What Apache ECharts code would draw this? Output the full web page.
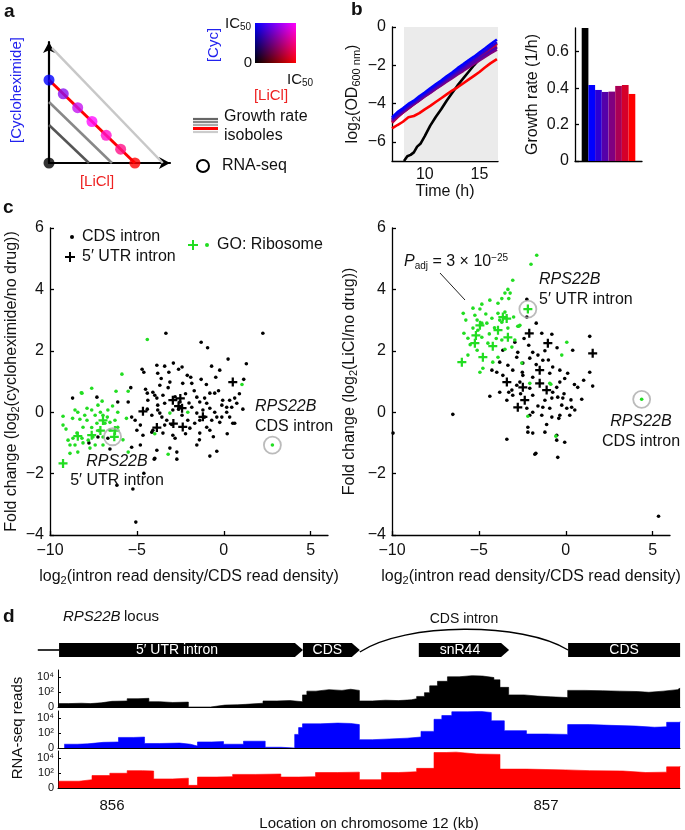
<!DOCTYPE html>
<html>
<head>
<meta charset="utf-8">
<script src="https://cdn.jsdelivr.net/npm/echarts@6.0.0/dist/echarts.min.js"></script>
<style>
html, body { margin: 0; padding: 0; background: #fff; }
#chart { width: 685px; height: 830px; }
</style>
</head>
<body>
<div id="chart"></div>
<script>
const FONT = 'Liberation Sans, Arial, Helvetica, sans-serif';
const GREEN = '#22dd22';
const minus = v => String(v).replace('-', '\u2212');

// ---- panel a: isobole schematic (fractions of IC50) ----
const isoboleDark = [[0, 0.314], [0.33, 0]];
const isoboleMid = [[0, 0.504], [0.52, 0]];
const isoboleRed = [[0, 0.686], [0.71, 0]];
const isoboleLight = [[0.025, 0.95], [0.94, 0]];
const rnaSeqPoints = [[0, 0], [0, 0.686], [0.118, 0.572], [0.237, 0.457], [0.355, 0.343], [0.473, 0.229], [0.592, 0.114], [0.71, 0]];
const rnaSeqColors = ['#000000', '#0000ff', '#8a10f0', '#c414f0', '#ff10ff', '#ff10d0', '#ff1088', '#ff0000'];

// ---- panel b: growth curves ----
const odTime = [7.0, 7.5, 8.0, 8.5, 9.0, 9.5, 10.0, 10.5, 11.0, 11.5, 12.0, 12.5, 13.0, 13.5, 14.0, 14.5, 15.0, 15.5, 16.0, 16.6];
const odMix = [
  [-4.72, -4.45, -4.25, -4.02, -3.85, -3.62, -3.42, -3.2, -3.0, -2.8, -2.58, -2.38, -2.15, -1.95, -1.74, -1.55, -1.33, -1.12, -0.9, -0.65],
  [-4.8, -4.55, -4.32, -4.1, -3.92, -3.7, -3.5, -3.28, -3.08, -2.88, -2.68, -2.48, -2.27, -2.07, -1.86, -1.67, -1.46, -1.26, -1.05, -0.8],
  [-4.85, -4.62, -4.4, -4.18, -3.98, -3.78, -3.58, -3.38, -3.18, -2.98, -2.78, -2.6, -2.4, -2.2, -2.02, -1.83, -1.64, -1.45, -1.27, -1.08],
  [-4.9, -4.67, -4.45, -4.23, -4.03, -3.83, -3.63, -3.44, -3.24, -3.05, -2.86, -2.67, -2.48, -2.3, -2.11, -1.93, -1.74, -1.56, -1.38, -1.18],
  [-4.95, -4.7, -4.46, -4.25, -4.03, -3.83, -3.62, -3.42, -3.22, -3.02, -2.82, -2.62, -2.42, -2.23, -2.03, -1.84, -1.64, -1.44, -1.24, -1.02],
  [-5.0, -4.72, -4.47, -4.24, -4.02, -3.8, -3.59, -3.38, -3.17, -2.96, -2.75, -2.55, -2.34, -2.14, -1.93, -1.73, -1.52, -1.32, -1.12, -0.88],
  [-5.3, -5.12, -4.95, -4.72, -4.65, -4.5, -4.3, -4.12, -3.92, -3.72, -3.52, -3.32, -3.15, -2.95, -2.75, -2.55, -2.35, -2.12, -1.9, -1.68]
];
const blackTime = [8.1, 8.4, 8.7, 9.0, 9.3, 9.6, 10.0, 10.5, 11.0, 11.5, 12.0, 12.5, 13.0, 13.5, 14.0, 14.5, 15.0, 15.5, 16.0, 16.6];
const blackOD = [-7.0, -6.75, -6.68, -6.55, -6.25, -6.1, -5.7, -5.15, -4.7, -4.3, -3.85, -3.45, -3.05, -2.7, -2.35, -2.0, -1.68, -1.35, -1.05, -0.85];
const mixColors = ['#0000ff', '#2a00d5', '#5500aa', '#800080', '#aa0055', '#d5002a', '#ff0000'];

const barLabels = ['', 'none', 'm1', 'm2', 'm3', 'm4', 'm5', 'm6', 'm7', ''];
const growthRate = [null, 0.73, 0.417, 0.39, 0.379, 0.381, 0.412, 0.417, 0.368, null];
const barColors = ['#fff', '#000000', '#0000ff', '#2a00d5', '#5500aa', '#800080', '#aa0055', '#d5002a', '#ff0000', '#fff'];

// ---- panel c: intron fold changes ----
const cycCdsBlack = [[-3.33,2.57],[2.25,2.57],[-1.3,2.28],[-0.93,2.1],[0.25,1.73],[1.3,1.58],[-3.85,1.53],[-2.9,1.6],[-4.7,1.4],[-4.6,1.3],[-3.8,1.27],[-3.16,1.3],[-2.4,1.47],[-2.6,1.4],[-1.9,1.14],[-1.3,1.07],[-0.23,1.37],[-0.46,1.14],[1.15,1.07],[-8.7,0.46],[-7.3,0.49],[-5.35,0.8],[-3.4,1.5],
  [-1.84,0.94],[-2.36,0.94],[-3.1,0.98],[-3.68,0.88],[-0.8,0.62],[-0.52,0.62],[-1.1,0.46],[0.34,0.39],[0.63,0.46],[-0.06,0.39],[-0.11,0.23],[0.17,0.16],[0.46,0.16],[0.17,0],[0.34,-0.16],[-0.11,-0.16],[-0.23,-0.33],[0.63,-0.36],[-0.69,-0.26],[-1.38,-0.26],[-0.98,-0.49],[-0.8,-0.59],[-1.38,-0.68],[-1.55,-1.07],[-2.07,-0.26],[-2.93,-0.75],[-3.5,-0.68],[-4.08,-0.59],[-3.1,-1.17],[-2.8,-0.85],[-1.95,-0.52],[-1.67,-0.36],[-2.7,-1.3],[-2.7,-1.53],[-3.97,-1.5],[-0.8,-1.43],[-0.4,-1.27],[-1.55,-0.03],[-1.84,0.16],[-2.53,0.33],[-3.5,0.55],[-4.08,0.65],[-3.85,0.46],[-3.4,0.29],[-2.93,0.07],[-3.56,-0.16],[-4.14,-0.1],[-3.8,0.07],[-3.28,-0.26],[-1.55,0.49],[-1.38,0.33],[-0.98,0.29],[-0.8,0.13],[-1.2,0.07],[-0.52,0],[-0.4,-0.16],[-1.1,-0.16],
  [-4.5,0.75],[-4.4,0.62],[-3.97,0.55],[-5.5,0.33],[-5.3,-0.16],[-5.1,-0.26],[-4.8,-0.42],[-5.0,-0.59],[-4.65,-0.75],[-4.14,-0.65],[-3.4,-0.42],[-4.8,-1.07],[-5.3,-1.14],[-3.85,-1.24],[-6.67,-0.85],[-7.24,-0.81],[-6.1,0.33],[-4.37,0.39],[-3.8,0.23],[-3.68,-0.03],
  [-5.23,-2.5],[-5.06,-3.58],[-6.15,-2.38],[-4.6,-1.99],[-4.0,-1.53],[0.52,-0.36],[0.75,0.29],[-7.76,-1.0],[-6.55,-1.2],
  [-2.2,0.6],[-2.0,0.3],[-2.6,0.1],[-3.0,-0.4],[-2.2,-0.7],[-1.7,0.7],[-1.0,0.9],[-0.3,0.7],[0.9,0.6],[1.1,0.1],[-2.4,-0.1],[-3.2,0.8],[-2.8,0.5],[-1.4,-0.9],[-0.6,-0.8],[0.2,-0.7],[-4.4,0.1],[-3.6,1.1],[-2.1,1.2],[-0.7,1.5]];
const cycUtrBlack = [[-4.65,0.03],[-3.85,-0.5],[-2.93,0.39],[-2.4,0.13],[-2.36,-0.48],[0.52,0.98],[-1.2,-0.15],[-2.9,-0.37],[-2.5,0.45],[-2.6,0.2]];
const cycCdsGreen = [[-4.4,2.37],[-5.86,1.24],[-7.6,0.78],[-8.2,0.63],[-6.2,0.68],[-5.5,0.68],[1.05,0.9],[-3.1,-0.03],[-2.07,0],[-3.97,-0.7],[-3.2,-1.37],[2.8,-1.07],
  [-8.16,0.62],[-7.0,0.36],[-9.25,-0.13],[-9.08,-0.55],[-8.96,-0.91],[-8.85,-1.07],[-8.56,0.07],[-8.4,0],[-8.28,-0.23],[-8.0,-0.1],[-7.87,-0.26],[-8.1,-0.49],[-8.45,-0.68],[-8.16,-0.85],[-8.68,-0.85],[-7.6,0.07],[-7.4,-0.1],[-7.3,-0.36],[-7.1,0],[-6.95,-0.1],[-6.7,-0.16],[-6.84,-0.36],[-6.55,-0.33],[-6.26,-0.26],[-6.1,0],[-6.1,-0.49],[-6.55,-0.59],[-6.95,-0.81],[-7.53,-0.81],[-7.8,-0.91],[-8.1,-1.0],[-8.56,-1.07],[-7.4,-1.07],[-6.95,-1.07],[-7.7,-1.17],[-8.85,-1.34],[-8.4,-1.3],[-5.5,-1.3],[-7.24,0.23],[-7.87,0.13],[-6.67,0.07],[-9.25,-0.42],[-7.6,-0.5],[-7.2,-0.6],[-8.7,-0.2],[-5.8,-0.9],[-5.6,-0.2],[-6.4,0.2]];
const cycUtrGreen = [[-9.25,-1.67],[-8.4,-0.78],[-7.6,-0.75],[-7.1,-0.6],[-6.95,-0.27],[-6.26,-0.6],[-6.3,-0.8]];
const cycCircled = [[-6.4,-0.8],[2.8,-1.07]];

const liclCdsBlack = [[1.38,2.47],[-1.38,2.57],[-0.8,2.54],[-2.93,2.28],[-2.13,2.18],[-1.9,1.95],[-2.76,1.95],[-3.62,2.02],[0.4,2.02],[-2.82,1.79],[-2.07,1.76],[-1.6,1.86],[-1.32,1.69],[-3.8,1.63],[-3.33,1.53],[-2.47,1.6],[-3.05,1.37],[-0.75,1.47],[-0.34,1.37],[-0.92,1.27],[0.11,1.27],[-0.06,1.1],[-4.25,1.37],[-3.97,1.3],[-3.62,1.2],[-2.47,1.2],[-1.9,1.14],[1.38,1.3],[1.03,1.04],[-0.34,0.98],[0.69,0.81],[-2.82,0.88],[-3.1,0.72],[-2.07,0.78],[-1.9,0.55],[-0.52,0.81],[-0.75,0.65],[-1.2,0.39],[-0.8,0.46],[-0.46,0.49],[-0.17,0.46],[0.92,0.42],[-1.32,0.16],[-0.92,0.13],[-0.23,0.23],[0.06,0.13],[0.34,0.16],[0.52,0.07],[0.23,-0.1],[-0.34,-0.1],[-0.8,-0.16],[-1.38,-0.1],[-1.9,0],[-2.24,0.13],[-2.07,-0.1],[-2.18,-0.49],[-2.18,-0.65],[-1.9,-0.68],[-1.2,-0.65],[-0.52,-0.75],[-0.06,-0.98],[-3.39,-0.88],[-0.52,-0.91],[-1.72,-1.34],[-0.46,-1.47],[-4.37,0.52],[-3.39,0.39],[-3.05,0.55],[-2.64,0.98],[-3.28,0.65],[-3.8,0.65],[-6.5,-0.07],[-9.94,-0.68],[5.34,-3.39],[-1.78,-1.37],[1.55,0.85],[-2.24,3.68],[-2.24,3.1],[-1.7,2.9],[-1.2,2.0],[-2.5,1.3],[-1.6,0.2],[-1.0,1.7],[-0.1,0.6],[0.5,0.9],[-1.1,-0.4],[-2.6,0.6],[-1.7,1.55],[-0.5,2.1],[-2.4,2.4],[-0.4,-0.2],[0.3,0.4]];
const liclUtrBlack = [[-2.1,2.57],[-1.03,2.25],[1.55,1.92],[-1.5,1.37],[-3.39,0.98],[-2.47,0.81],[-1.5,0.94],[-1.1,0.72],[-2.36,0.39],[-2.76,0.16]];
const liclCdsGreen = [[-1.67,5.11],[-2.0,4.82],[-3.05,4.3],[-3.33,4.0],[-3.5,3.88],[-3.2,3.88],[-3.28,3.7],[-3.68,3.7],[-3.9,3.55],[-4.37,3.65],[-4.83,3.52],[-5.34,3.39],[-4.94,3.36],[-5.9,3.22],[-5.75,3.0],[-5.23,3.16],[-5.1,3.0],[-4.83,2.9],[-4.54,2.9],[-4.25,3.06],[-3.9,3.22],[-3.5,3.26],[-3.68,2.93],[-3.33,2.74],[-2.76,2.8],[-5.34,2.74],[-5.06,2.67],[-5.86,2.57],[-5.63,2.41],[-4.83,2.44],[-4.48,2.25],[-3.68,2.35],[-5.1,2.02],[-5.63,1.86],[-3.9,1.79],[-4.2,1.63],[-4.77,1.43],[-4.94,1.3],[-3.1,2.12],[-2.93,2.35],[-2.64,2.83],[-2.07,0.94],[-0.86,0.91],[-2.18,-0.13],[-0.57,-0.78],[0.06,2.28],[-0.23,1.86],[-2.53,1.6],[-0.92,0.94],[-2.7,2.8],
  [-4.1,2.75],[-4.6,3.2],[-3.0,3.1],[-4.4,2.55],[-3.8,3.0],[-5.5,2.2],[-4.0,2.4],[-3.5,2.05],[4.37,0.42]];
const liclUtrGreen = [[-2.18,3.36],[-3.62,3.1],[-3.9,2.67],[-5.17,2.5],[-5.23,2.25],[-4.2,2.15],[-3.33,2.44],[-4.77,1.79],[-5.98,1.63],[-4.94,2.83],[-3.4,3.05]];
const liclCircled = [[-2.18,3.36],[4.37,0.42]];

// ---- panel d: RPS22B locus coverage, [kb, log10 reads] step starts ----
const geneParts = [
  { kind: 'line', start: 855.829, end: 855.878, label: '' },
  { kind: 'box', start: 855.878, end: 856.440, label: '5\u2032 UTR intron' },
  { kind: 'box', start: 856.440, end: 856.571, label: 'CDS' },
  { kind: 'arc', start: 856.571, end: 857.051, label: 'CDS intron' },
  { kind: 'box', start: 856.707, end: 856.915, label: 'snR44' },
  { kind: 'box', start: 857.051, end: 857.309, label: 'CDS' }
];
const covNoDrug = [[855.878,0.45],[855.90,0.5],[855.93,0.45],[855.95,0.55],[855.975,0.75],[856.00,0.8],[856.035,1.1],[856.06,1.15],[856.085,0.7],[856.11,0.6],[856.14,0.65],[856.176,0],[856.227,0.25],[856.26,0.3],[856.29,0.35],[856.308,0.5],[856.348,0.8],[856.38,0.85],[856.41,0.7],[856.439,1.6],[856.449,2.1],[856.47,2.3],[856.50,2.2],[856.53,2.35],[856.55,2.2],[856.570,0.8],[856.60,0.9],[856.63,0.85],[856.66,0.95],[856.69,1.1],[856.702,1.4],[856.72,1.9],[856.732,2.8],[856.75,3.4],[856.773,4.0],[856.80,4.15],[856.83,4.1],[856.854,3.9],[856.88,3.6],[856.894,2.6],[856.914,1.6],[856.95,1.45],[856.98,1.35],[857.01,1.25],[857.050,2.2],[857.09,2.15],[857.13,2.1],[857.17,2.05],[857.21,1.95],[857.237,2.1],[857.27,2.3],[857.303,2.5],[857.309,2.5]];
const covCyc = [[855.89,0.5],[855.92,0.55],[855.944,0.75],[855.98,0.8],[856.015,1.4],[856.05,1.45],[856.075,0.6],[856.11,0.65],[856.156,0.5],[856.181,0.25],[856.197,0.8],[856.23,0.85],[856.257,0.5],[856.303,0.9],[856.353,0.1],[856.389,0],[856.421,1.8],[856.43,2.7],[856.439,3.2],[856.48,3.3],[856.52,3.25],[856.55,3.1],[856.570,1.1],[856.60,1.2],[856.64,1.3],[856.68,1.45],[856.712,2.2],[856.742,3.8],[856.76,4.3],[856.783,4.8],[856.82,4.85],[856.85,4.7],[856.874,3.6],[856.904,2.3],[856.955,1.85],[857.0,1.8],[857.050,3.1],[857.10,3.0],[857.15,2.9],[857.207,2.75],[857.25,2.8],[857.278,3.4],[857.309,3.5]];
const covLicl = [[855.877,0.9],[855.924,1.1],[855.954,1.65],[855.995,1.95],[856.035,2.3],[856.07,2.25],[856.096,1.2],[856.14,1.3],[856.176,0.35],[856.197,1.45],[856.24,1.5],[856.278,1.8],[856.33,1.85],[856.389,1.45],[856.43,1.5],[856.469,2.05],[856.52,2.1],[856.570,1.1],[856.621,2.05],[856.66,2.15],[856.702,2.6],[856.742,4.7],[856.77,4.75],[856.793,4.5],[856.84,4.45],[856.894,2.5],[856.955,2.45],[857.0,2.4],[857.045,2.3],[857.10,2.25],[857.177,2.05],[857.23,2.1],[857.278,2.8],[857.309,2.9]];
const kbTicks = [855.9, 856.0, 856.1, 856.2, 856.3, 856.4, 856.5, 856.6, 856.7, 856.8, 856.9, 857.0, 857.1, 857.2, 857.3];
const kbLabels = [856, 857];
const readTicks = [0, 2, 4];
const readLabels = { 0: '0', 2: '10\u00b2', 4: '10\u2074' };

function merge(a, b) {
  const out = Object.assign({}, a);
  for (const k in b) {
    if (b[k] && typeof b[k] === 'object' && !Array.isArray(b[k]) && a[k] && typeof a[k] === 'object') out[k] = merge(a[k], b[k]);
    else out[k] = b[k];
  }
  return out;
}
function valAxis(gi, min, max, extra) {
  return merge({
    type: 'value', gridIndex: gi, min: min, max: max,
    axisLine: { show: true, onZero: false, lineStyle: { color: '#000', width: 1.3 } },
    axisTick: { show: true, inside: true, length: 4, lineStyle: { color: '#000', width: 1.3 } },
    axisLabel: { show: true, color: '#111', fontFamily: FONT, fontSize: 15, formatter: minus, margin: 6 },
    splitLine: { show: false },
    nameTextStyle: { color: '#111', fontFamily: FONT, fontSize: 15 }
  }, extra || {});
}
const subRich = {
  n: { fontFamily: FONT, fontSize: 15, color: '#111' },
  s: { fontFamily: FONT, fontSize: 10, color: '#111', padding: [7, 0, 0, 0] }
};
const subRich16 = {
  n: { fontFamily: FONT, fontSize: 16, color: '#111' },
  s: { fontFamily: FONT, fontSize: 11, color: '#111', padding: [7, 0, 0, 0] }
};
const hidden = { axisLine: { show: false }, axisTick: { show: false }, axisLabel: { show: false } };
const pair = (xs, ys) => xs.map((x, i) => [x, ys[i]]);
const plusPath = 'path://M3,0H5V3H8V5H5V8H3V5H0V3H3Z';

function txt(x, y, text, o) {
  o = o || {};
  return {
    type: 'text', x: x, y: y, rotation: o.rotation || 0, z: 100,
    style: {
      text: text, fill: o.fill || '#111', align: o.align || 'left', verticalAlign: 'middle',
      fontFamily: FONT, fontSize: o.fontSize || 15, fontWeight: o.fontWeight || 'normal',
      fontStyle: o.fontStyle || 'normal', rich: o.rich
    }
  };
}
function plus(cx, cy, color) {
  return { type: 'group', z: 100, children: [
    { type: 'rect', shape: { x: cx - 5, y: cy - 1, width: 10, height: 2 }, style: { fill: color } },
    { type: 'rect', shape: { x: cx - 1, y: cy - 5, width: 2, height: 10 }, style: { fill: color } }
  ] };
}
function hline(x1, x2, y, color, w) {
  return { type: 'line', z: 100, shape: { x1: x1, y1: y, x2: x2, y2: y }, style: { stroke: color, lineWidth: w } };
}

const richLabel = {
  n: { fontFamily: FONT, fontSize: 16, color: '#111' },
  i: { fontFamily: FONT, fontSize: 16, color: '#111', fontStyle: 'italic' },
  s: { fontFamily: FONT, fontSize: 10, color: '#111', padding: [8, 0, 0, 0] },
  p: { fontFamily: FONT, fontSize: 10, color: '#111', padding: [0, 0, 8, 0] }
};

const graphics = [
  txt(4, 12, 'a', { fontWeight: 'bold', fontSize: 19 }),
  txt(351, 10, 'b', { fontWeight: 'bold', fontSize: 19 }),
  txt(3, 208, 'c', { fontWeight: 'bold', fontSize: 19 }),
  txt(3, 617, 'd', { fontWeight: 'bold', fontSize: 19 }),
  // panel a
  txt(17, 90, '[Cycloheximide]', { rotation: Math.PI / 2, align: 'center', fill: '#2222ee' }),
  txt(97, 182, '[LiCl]', { align: 'center', fill: '#ee2222' }),
  { type: 'rect', z: 50, shape: { x: 255, y: 23, width: 41, height: 40 },
    style: { fill: new echarts.graphic.LinearGradient(0, 0, 1, 0, [{ offset: 0, color: '#000' }, { offset: 1, color: '#ff0000' }]) } },
  { type: 'rect', z: 51, shape: { x: 255, y: 23, width: 41, height: 40 },
    style: { blend: 'lighter', fill: new echarts.graphic.LinearGradient(0, 0, 0, 1, [{ offset: 0, color: 'rgba(0,0,255,1)' }, { offset: 1, color: 'rgba(0,0,255,0)' }]) } },
  txt(225, 24, '{n|IC}{s|50}', { rich: subRich }),
  txt(214, 45, '[Cyc]', { rotation: Math.PI / 2, align: 'center', fill: '#2222ee' }),
  txt(252, 63, '0', { align: 'right' }),
  txt(287, 80, '{n|IC}{s|50}', { rich: subRich }),
  txt(271, 96, '[LiCl]', { align: 'center', fill: '#ee2222' }),
  hline(193, 218, 119, '#666', 2.2),
  hline(193, 218, 122, '#888', 2.2),
  hline(193, 218, 125, '#aaa', 2.2),
  hline(193, 218, 128.5, '#ff0000', 3),
  hline(193, 218, 132, '#ccc', 2.2),
  txt(224, 117, 'Growth rate', { fontSize: 16 }),
  txt(224, 136, 'isoboles', { fontSize: 16 }),
  { type: 'circle', z: 100, shape: { cx: 203, cy: 166, r: 6 }, style: { fill: 'none', stroke: '#000', lineWidth: 2 } },
  txt(222, 166, 'RNA-seq', { fontSize: 16 }),
  // panel c legend + notes
  { type: 'circle', z: 100, shape: { cx: 72, cy: 237, r: 2 }, style: { fill: '#000' } },
  txt(82, 237, 'CDS intron', { fontSize: 16 }),
  plus(70, 257, '#000'),
  txt(82, 257, '5\u2032 UTR intron', { fontSize: 16 }),
  plus(193, 245, GREEN),
  { type: 'circle', z: 100, shape: { cx: 207, cy: 245, r: 2 }, style: { fill: GREEN } },
  txt(217, 245, 'GO: Ribosome', { fontSize: 16 }),
  txt(117, 462, 'RPS22B', { align: 'center', fontStyle: 'italic', fontSize: 16 }),
  txt(117, 481, '5\u2032 UTR intron', { align: 'center', fontSize: 16 }),
  txt(255, 407, 'RPS22B', { fontStyle: 'italic', fontSize: 16 }),
  txt(255, 427, 'CDS intron', { fontSize: 16 }),
  txt(539, 280, 'RPS22B', { fontStyle: 'italic', fontSize: 16 }),
  txt(539, 300, '5\u2032 UTR intron', { fontSize: 16 }),
  txt(641, 422, 'RPS22B', { align: 'center', fontStyle: 'italic', fontSize: 16 }),
  txt(641, 442, 'CDS intron', { align: 'center', fontSize: 16 }),
  txt(404, 262, '{i|P}{s|adj}{n| = 3 \u00d7 10}{p|\u221225}', { rich: richLabel }),
  { type: 'line', z: 100, shape: { x1: 440, y1: 273, x2: 465, y2: 300 }, style: { stroke: '#222', lineWidth: 1 } },
  // panel d
  txt(63, 617, 'RPS22B', { fontStyle: 'italic' }),
  txt(124, 617, 'locus'),
  txt(18, 728, 'RNA-seq reads', { rotation: Math.PI / 2, align: 'center' })
];

const trackGrid = top => ({ left: 58, top: top, width: 622, height: 37 });
const KB_MIN = 855.8756, KB_MAX = 857.3088;
function trackX(gi, last) {
  return valAxis(gi, KB_MIN, KB_MAX, {
    axisLine: { show: true, lineStyle: { width: 1 } },
    axisTick: { show: !!last, customValues: kbTicks, length: 4 },
    axisLabel: { show: !!last, customValues: kbLabels, fontSize: 15, margin: 10, formatter: v => String(v) },
    name: last ? 'Location on chromosome 12 (kb)' : '', nameLocation: 'middle', nameGap: 28
  });
}
function trackY(gi) {
  return valAxis(gi, 0, 4.9, {
    axisLine: { lineStyle: { width: 1 } },
    axisTick: { customValues: readTicks, length: 3, lineStyle: { width: 1 } },
    axisLabel: { customValues: readTicks, fontSize: 11, margin: 4, formatter: v => readLabels[v] }
  });
}
function coverage(gi, data, color) {
  return { type: 'line', xAxisIndex: gi, yAxisIndex: gi, data: data, step: 'end', showSymbol: false,
    lineStyle: { color: color, width: 0.6 }, areaStyle: { color: color, opacity: 1 }, silent: true };
}
function scat(gi, data, color, cross, size) {
  return { type: 'scatter', xAxisIndex: gi, yAxisIndex: gi, data: data,
    symbol: cross ? plusPath : 'circle', symbolSize: size || (cross ? 9 : 3.6),
    itemStyle: { color: color, opacity: 1 }, silent: true, z: cross ? 4 : 3 };
}
function rings(gi, data) {
  return { type: 'scatter', xAxisIndex: gi, yAxisIndex: gi, data: data, symbol: 'circle', symbolSize: 17,
    itemStyle: { color: 'rgba(0,0,0,0)', borderColor: '#aaa', borderWidth: 1.8 }, silent: true, z: 5 };
}
const cAxisX = gi => valAxis(gi, -10, 6, {
  axisTick: { customValues: [-10, -5, 0, 5] }, axisLabel: { customValues: [-10, -5, 0, 5], margin: 8, fontSize: 16 },
  name: '{n|log}{s|2}{n|(intron read density/CDS read density)}', nameLocation: 'middle', nameGap: 33,
  nameTextStyle: { rich: subRich16 }
});
const cAxisY = (gi, name, gap) => valAxis(gi, -4, 6, {
  axisTick: { customValues: [-4, -2, 0, 2, 4, 6] }, axisLabel: { customValues: [-4, -2, 0, 2, 4, 6], fontSize: 16 },
  name: name, nameLocation: 'middle', nameGap: gap, nameTextStyle: { rich: subRich16 }
});

const option = {
  animation: false,
  backgroundColor: '#fff',
  textStyle: { fontFamily: FONT },
  grid: [
    { left: 49, top: 42, width: 121, height: 121 },
    { left: 392, top: 27, width: 106, height: 134 },
    { left: 575, top: 28, width: 67, height: 133 },
    { left: 50, top: 228, width: 278, height: 307 },
    { left: 392, top: 228, width: 278, height: 307 },
    { left: 37, top: 643, width: 643, height: 14 },
    trackGrid(670), trackGrid(711), trackGrid(751)
  ].map(g => Object.assign({ outerBoundsMode: 'none', containLabel: false }, g)),
  xAxis: [
    valAxis(0, 0, 1, { axisLine: { symbol: ['none', 'arrow'], symbolSize: [9, 11], lineStyle: { width: 2.2 } }, axisTick: { show: false }, axisLabel: { show: false } }),
    valAxis(1, 7, 16.7, { axisTick: { customValues: [10, 15] }, axisLabel: { customValues: [10, 15], fontSize: 16 },
      name: 'Time (h)', nameLocation: 'middle', nameGap: 23, nameTextStyle: { fontSize: 16 } }),
    { type: 'category', gridIndex: 2, data: barLabels, axisTick: { show: false }, axisLabel: { show: false },
      axisLine: { lineStyle: { color: '#000', width: 1.3 } } },
    cAxisX(3), cAxisX(4),
    merge(valAxis(5, 855.8272, 857.3088, {}), hidden),
    trackX(6, false), trackX(7, false), trackX(8, true)
  ],
  yAxis: [
    valAxis(0, 0, 1, { axisLine: { symbol: ['none', 'arrow'], symbolSize: [9, 11], lineStyle: { width: 2.2 } }, axisTick: { show: false }, axisLabel: { show: false } }),
    valAxis(1, -7, 0, { axisTick: { customValues: [-6, -4, -2, 0] }, axisLabel: { customValues: [-6, -4, -2, 0], fontSize: 16 },
      name: '{n|log}{s|2}{n|(OD}{s|600 nm}{n|)}', nameLocation: 'middle', nameGap: 30, nameTextStyle: { rich: subRich16 } }),
    valAxis(2, 0, 0.73, { axisTick: { customValues: [0, 0.2, 0.4, 0.6] }, axisLabel: { customValues: [0, 0.2, 0.4, 0.6], fontSize: 16, formatter: v => String(v) },
      name: 'Growth rate (1/h)', nameLocation: 'middle', nameGap: 34, nameTextStyle: { fontSize: 16 } }),
    cAxisY(3, '{n|Fold change (log}{s|2}{n|(cycloheximide/no drug))}', 29),
    cAxisY(4, '{n|Fold change (log}{s|2}{n|(LiCl/no drug))}', 33),
    merge(valAxis(5, 0, 1, {}), hidden),
    trackY(6), trackY(7), trackY(8)
  ],
  graphic: { elements: graphics },
  series: [
    // panel a
    { type: 'line', xAxisIndex: 0, yAxisIndex: 0, data: isoboleLight, showSymbol: false, lineStyle: { color: '#c8c8c8', width: 2.5 }, silent: true },
    { type: 'line', xAxisIndex: 0, yAxisIndex: 0, data: isoboleDark, showSymbol: false, lineStyle: { color: '#555', width: 2.5 }, silent: true },
    { type: 'line', xAxisIndex: 0, yAxisIndex: 0, data: isoboleMid, showSymbol: false, lineStyle: { color: '#888', width: 2.5 }, silent: true },
    { type: 'line', xAxisIndex: 0, yAxisIndex: 0, data: isoboleRed, showSymbol: false, lineStyle: { color: '#ff0000', width: 3 }, silent: true },
    { type: 'scatter', xAxisIndex: 0, yAxisIndex: 0, symbolSize: 11, z: 5, silent: true,
      data: rnaSeqPoints.map((p, i) => ({ value: p, itemStyle: { color: rnaSeqColors[i] } })) },
    // panel b
    { type: 'line', xAxisIndex: 1, yAxisIndex: 1, data: [], silent: true, z: 1,
      markArea: { silent: true, itemStyle: { color: '#ebebeb' }, data: [[{ coord: [8.1, -7] }, { coord: [16.7, 0] }]] } },
    { type: 'line', xAxisIndex: 1, yAxisIndex: 1, data: pair(blackTime, blackOD), showSymbol: false, lineStyle: { color: '#000', width: 2.6 }, silent: true, z: 2 }
  ].concat(odMix.slice().reverse().map((ys, k) => {
    const i = odMix.length - 1 - k;
    return { type: 'line', xAxisIndex: 1, yAxisIndex: 1, data: pair(odTime, ys), showSymbol: false,
      lineStyle: { color: mixColors[i], width: 2.6 }, silent: true, z: 3 };
  })).concat([
    { type: 'bar', xAxisIndex: 2, yAxisIndex: 2, barWidth: '100%', barCategoryGap: '0%', silent: true,
      data: growthRate.map((v, i) => ({ value: v, itemStyle: { color: barColors[i] } })) },
    // panel c
    scat(3, cycCdsBlack, '#000', false), scat(3, cycUtrBlack, '#000', true),
    scat(3, cycCdsGreen, GREEN, false), scat(3, cycUtrGreen, GREEN, true), rings(3, cycCircled),
    scat(4, liclCdsBlack, '#000', false), scat(4, liclUtrBlack, '#000', true),
    scat(4, liclCdsGreen, GREEN, false), scat(4, liclUtrGreen, GREEN, true), rings(4, liclCircled),
    // panel d
    { type: 'custom', xAxisIndex: 5, yAxisIndex: 5, silent: true, clip: false,
      data: geneParts.map(p => [p.start, p.end]),
      renderItem: function (params, api) {
        const part = geneParts[params.dataIndex];
        const a = api.coord([api.value(0), 0]);
        const b = api.coord([api.value(1), 1]);
        const x0 = a[0], x1 = b[0], yb = a[1], yt = b[1], ym = (a[1] + b[1]) / 2;
        if (part.kind === 'line') {
          return { type: 'line', shape: { x1: x0, y1: ym, x2: x1, y2: ym }, style: { stroke: '#000', lineWidth: 1.6 } };
        }
        if (part.kind === 'arc') {
          const w = x1 - x0;
          return { type: 'group', children: [
            { type: 'bezierCurve', shape: { x1: x0, y1: ym + 2, x2: x1, y2: ym, cpx1: x0 + w * 0.22, cpy1: ym - 28, cpx2: x1 - w * 0.22, cpy2: ym - 28 },
              style: { stroke: '#000', fill: null, lineWidth: 1.4 } },
            { type: 'text', style: { text: part.label, x: (x0 + x1) / 2, y: ym - 31, align: 'center', verticalAlign: 'middle', fontFamily: FONT, fontSize: 14, fill: '#111' } }
          ] };
        }
        const tip = x1 >= 679 ? 0 : 8;
        return { type: 'group', children: [
          { type: 'polygon', shape: { points: [[x0, yt], [x1 - tip, yt], [x1, ym], [x1 - tip, yb], [x0, yb]] }, style: { fill: '#000' } },
          { type: 'text', style: { text: part.label, x: (x0 + x1 - tip) / 2, y: ym, align: 'center', verticalAlign: 'middle', fontFamily: FONT, fontSize: 14, fill: '#fff' } }
        ] };
      } },
    coverage(6, covNoDrug, '#000'), coverage(7, covCyc, '#0000ff'), coverage(8, covLicl, '#ff0000')
  ])
};

const chart = echarts.init(document.getElementById('chart'), null, { renderer: 'canvas' });
chart.setOption(option);
</script>
</body>
</html>
